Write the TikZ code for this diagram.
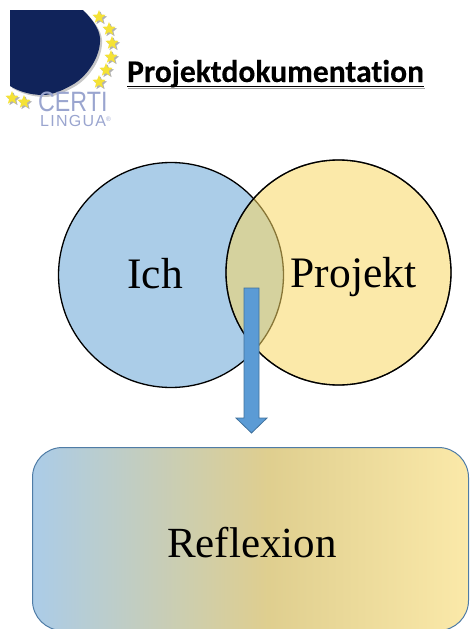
\documentclass[tikz,border=0pt]{standalone}
\usepackage{fontspec}
\setmainfont{Liberation Serif}
\newfontfamily\titlefont[Ligatures=NoCommon,Contextuals=NoAlternate,FakeBold=0.25]{Carlito}
\newfontfamily\logofont{Liberation Sans}
\usetikzlibrary{shapes.geometric,calc}
\definecolor{ichblue}{HTML}{ABCDE8}
\definecolor{projyellow}{HTML}{F8D763}
\definecolor{arrowblue}{HTML}{5B9BD5}
\definecolor{arrowedge}{HTML}{41719C}
\definecolor{boxedge}{HTML}{4F7CA6}
\definecolor{logonavy}{HTML}{10235A}
\definecolor{logotext}{HTML}{9AA5CF}
\definecolor{logostar}{HTML}{F5E235}
\pgfdeclarehorizontalshading{reflexgrad}{100bp}{
  rgb(0bp)=(0.67,0.80,0.91);
  rgb(25bp)=(0.67,0.80,0.91);
  rgb(52bp)=(0.875,0.81,0.56);
  rgb(75bp)=(0.984,0.914,0.663);
  rgb(100bp)=(0.984,0.914,0.663)}
\tikzset{
  venn/.style={circle,draw=black,line width=1.3pt,minimum size=225pt,inner sep=0pt},
  vennlabel/.style={anchor=base,font=\fontsize{43.5}{50}\selectfont,inner sep=0pt},
  logostarnode/.style={star,star points=5,star point ratio=2.3,fill=logostar,draw=none,
    minimum size=14pt,inner sep=0pt},
  logoshadow/.style={star,star points=5,star point ratio=2.3,fill=black!30,draw=none,
    minimum size=14pt,inner sep=0pt},
  blockarrow/.style={fill=arrowblue,draw=arrowedge,line width=0.8pt,line join=miter},
}
\begin{document}
\begin{tikzpicture}[x=1pt,y=-1pt]
\useasboundingbox (0,0) rectangle (469,629);
% logo
\fill[black!22,shift={(2,2)}] (10,10) -- (83,10) .. controls (95,22) and (101,32) .. (100,42)
  .. controls (99,60) and (85,78) .. (72,85) .. controls (60,92) and (50,95) .. (43,95)
  .. controls (30,95) and (18,91) .. (10,86) -- cycle;
\fill[logonavy] (10,10) -- (83,10) .. controls (95,22) and (101,32) .. (100,42)
  .. controls (99,60) and (85,78) .. (72,85) .. controls (60,92) and (50,95) .. (43,95)
  .. controls (30,95) and (18,91) .. (10,86) -- cycle;
\foreach \px/\py [count=\n] in {99/17,109/29,112/43,111/57,106/70,99/82,24/102,12/98}{
  \node[logoshadow,name=sh\n] at (\px+1.5,\py+1.5) {};
  \node[logostarnode,name=st\n] at (\px,\py) {};
}
\node[anchor=base west,inner sep=0pt,text=logotext,xscale=0.83] (certi) at (38,111.5)
  {\logofont\fontsize{28}{30}\selectfont CERTI};
\node[anchor=base west,inner sep=0pt,text=logotext] (lingua) at (40,126)
  {\logofont\addfontfeature{LetterSpace=8}\fontsize{16}{18}\selectfont LINGUA\raisebox{5pt}{\fontsize{6.5}{6.5}\selectfont\char"00AE}};
% title
\node[anchor=base west,inner sep=0pt] (title) at (127,82)
  {\titlefont\bfseries\fontsize{31.6}{34}\selectfont Projektdokumentation};
\draw[black!35,line width=1.6pt] ($(title.base west)+(1,6.5)$) -- ($(title.base east)+(1,6.5)$);
\draw[black,line width=1.4pt] ($(title.base west)+(0,4.5)$) -- ($(title.base east)+(0,4.5)$);
% circles
\node[venn,fill=ichblue] (ich) at (171,275) {};
\node[venn,fill=projyellow,draw opacity=0,opacity=.55] (projektfill) at (338.5,272.5) {};
\draw[black,line width=1.3pt] (projektfill) circle[radius=112.5];
\node[vennlabel] (ichtext) at (155,288) {Ich};
\node[vennlabel] (projtext) at (353.5,287) {Projekt};
% box
\node[draw=boxedge,line width=1pt,rounded corners=30pt,shading=reflexgrad,
  minimum width=436pt,minimum height=183pt,inner sep=0pt,anchor=north west] (box) at (32,447) {};
\node[anchor=base,inner sep=0pt,font=\fontsize{43}{50}\selectfont] (reflexion) at (252,557) {Reflexion};
% arrow
\coordinate (arrowtop) at (251.5,288);
\coordinate (arrowtip) at (251.5,433);
\draw[blockarrow] ($(arrowtop)+(-7.5,0)$) -- ($(arrowtop)+(7.5,0)$) -- ($(arrowtop)+(7.5,130)$)
  -- ($(arrowtop)+(15.5,130)$) -- (arrowtip) -- ($(arrowtop)+(-15.5,130)$) -- ($(arrowtop)+(-7.5,130)$) -- cycle;
\end{tikzpicture}
\end{document}
